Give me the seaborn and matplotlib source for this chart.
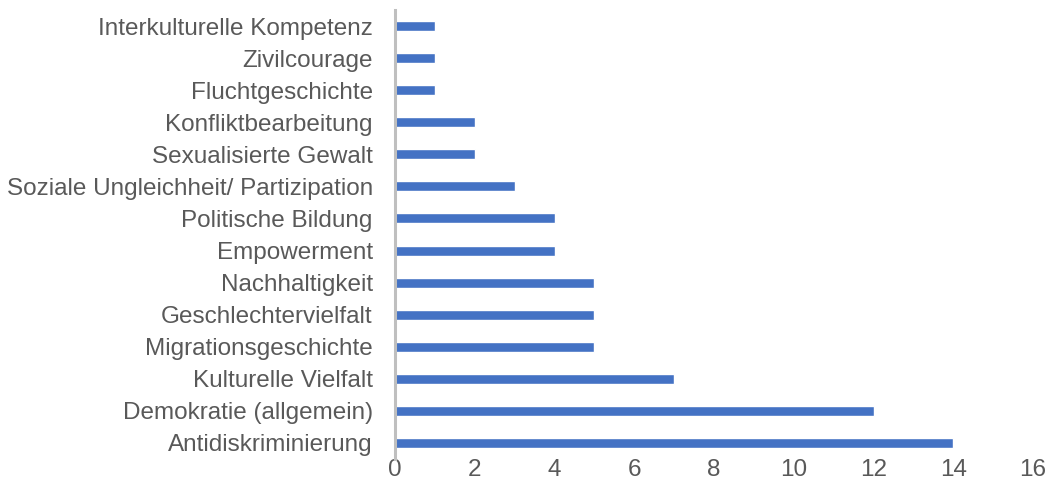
import matplotlib
matplotlib.use("Agg")
import matplotlib.pyplot as plt
import seaborn as sns
import pandas as pd

categories = ["Interkulturelle Kompetenz", "Zivilcourage", "Fluchtgeschichte",
              "Konfliktbearbeitung", "Sexualisierte Gewalt",
              "Soziale Ungleichheit/ Partizipation", "Politische Bildung",
              "Empowerment", "Nachhaltigkeit", "Geschlechtervielfalt",
              "Migrationsgeschichte", "Kulturelle Vielfalt",
              "Demokratie (allgemein)", "Antidiskriminierung"]
values = [1, 1, 1, 2, 2, 3, 4, 4, 5, 5, 5, 7, 12, 14]
xticks = [0, 2, 4, 6, 8, 10, 12, 14, 16]

sns.set_theme(style="white")
plt.rcParams['font.family'] = ['Liberation Sans', 'DejaVu Sans']

df = pd.DataFrame({"cat": categories, "val": values})

fig = plt.figure(figsize=(10.51, 5.01), dpi=100)
ax = fig.add_axes([395/1051, 42/501, (1033-395)/1051, 449/501])
sns.barplot(data=df, y="cat", x="val", order=categories, color="#4472C4",
            saturation=1, width=0.31, ax=ax)
ax.set_xlim(0, 16)
ax.set_ylim(len(categories) - 0.5, -0.5)
ax.set_xticks(xticks)
ax.set_xticklabels([str(t) for t in xticks])
ax.set_xlabel("")
ax.set_ylabel("")
for s in ["top", "right", "bottom"]:
    ax.spines[s].set_visible(False)
ax.spines["left"].set_color("#BFBFBF")
ax.spines["left"].set_linewidth(2.2)
ax.tick_params(axis="both", length=0, colors="#595959")
ax.tick_params(axis="y", labelsize=17.5, pad=16)
ax.tick_params(axis="x", labelsize=17.5, pad=0)
fig.savefig("out.png", dpi=100)
